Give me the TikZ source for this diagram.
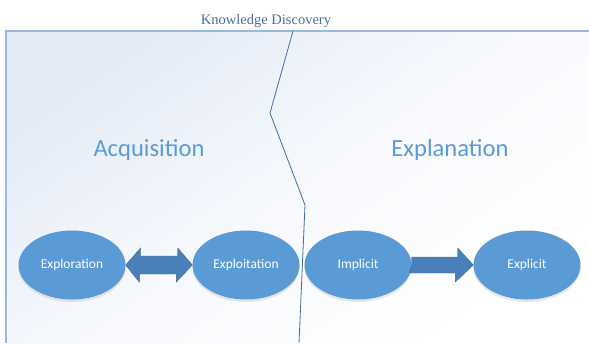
\documentclass[tikz,border=0pt]{standalone}
\usepackage{fontspec}
\usepackage{xcolor}
\usepackage{tikz}
\usetikzlibrary{positioning, shapes, shadows}
\newfontfamily\calib{Carlito}
\newfontfamily\tms{Liberation Serif}
\definecolor{ovalblue}{HTML}{5B9BD5}
\definecolor{arrowblue}{HTML}{4A80B9}
\definecolor{headblue}{HTML}{5B9BD5}
\definecolor{titleblue}{HTML}{4C6E9E}
\definecolor{frameblue}{HTML}{9DB9DD}
\definecolor{zigblue}{HTML}{3D6EA8}
\definecolor{paleblue}{HTML}{E4EBF7}
\tikzset{oval/.style={ellipse, fill=ovalblue, minimum width=107pt, minimum height=69pt, inner sep=0pt,
    text=white, font=\calib\fontsize{13.5}{15}\selectfont,
    drop shadow={opacity=0.18, shadow xshift=0pt, shadow yshift=-2.5pt}},
  phase/.style={anchor=base, text=headblue, font=\calib\fontsize{24.6}{28}\selectfont},
  fatarrow/.style={fill=arrowblue, draw=arrowblue!80!black, line width=0.4pt}}

\begin{document}
\begin{tikzpicture}[x=1pt, y=-1pt]
\useasboundingbox (0,0) rectangle (589,343);
\shade[top color=paleblue, bottom color=white, middle color=paleblue!30, shading angle=35] (6,31) rectangle (589,343);
\draw[frameblue, line width=1.3pt] (6,343) -- (6,31) -- (589,31);
\node [anchor=base, text=titleblue, font=\tms\fontsize{14.5}{16}\selectfont] (kd) at (266,24) {Knowledge Discovery};

\draw[zigblue, line width=0.8pt] (293,31) -- (270,113) -- (305,205) -- (299,343);

\node [phase] (acq) at (149,156) {Acquisition};
\node [phase] (expn) at (450,156) {Explanation};

\node [oval] (explr) at (72,265) {Exploration};
\node [oval] (explt) at (246,265) {Exploitation};
\node [oval] (impl) at (358,265) {Implicit};
\node [oval] (expl) at (527,265) {Explicit};

\fill[fatarrow] (explr.east) -- ++(15,-17) -- ++(0,8) -- ++(37,0) -- ++(0,-8) -- (explt.west)
  -- ++(-16,17) -- ++(0,-8) -- ++(-37,0) -- ++(0,8) -- cycle;
\fill[fatarrow] (impl.east) -- ++(0,-8) -- ++(46,0) -- ++(0,-9) -- (expl.west)
  -- ++(-18,17) -- ++(0,-9) -- ++(-46,0) -- cycle;
\end{tikzpicture}
\end{document}
